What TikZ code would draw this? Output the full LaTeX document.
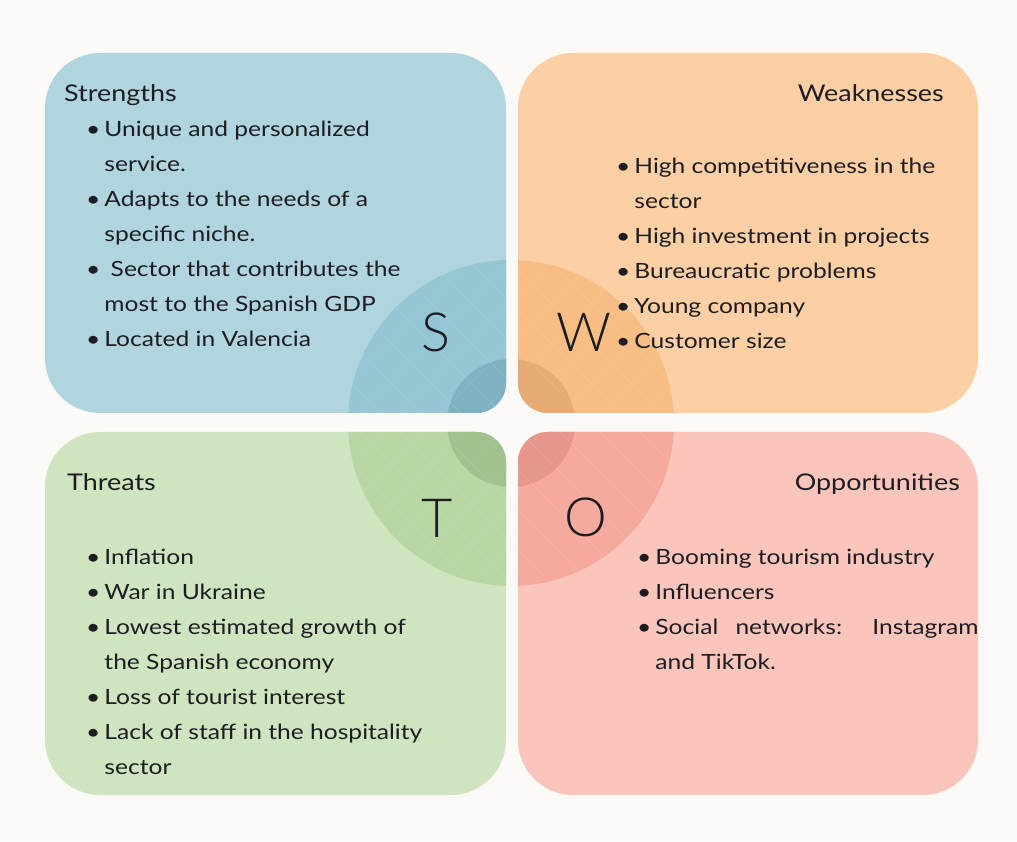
\documentclass[tikz,border=0pt]{standalone}
\usepackage{fontspec}
\setmainfont[FakeStretch=1.17]{Lato}
\newfontfamily\bigletter{Lato Light}

\definecolor{paper}{RGB}{251,250,246}
\definecolor{ink}{RGB}{28,28,34}
\definecolor{blueA}{RGB}{176,213,222}
\definecolor{blueB}{RGB}{150,197,211}
\definecolor{blueC}{RGB}{126,177,194}
\definecolor{orangeA}{RGB}{252,208,164}
\definecolor{orangeB}{RGB}{248,189,130}
\definecolor{orangeC}{RGB}{232,170,116}
\definecolor{greenA}{RGB}{206,229,191}
\definecolor{greenB}{RGB}{184,215,164}
\definecolor{greenC}{RGB}{160,194,143}
\definecolor{redA}{RGB}{250,198,187}
\definecolor{redB}{RGB}{246,170,158}
\definecolor{redC}{RGB}{230,150,140}

% box with its own radius on every corner: x1,y1,x2,y2, then TL,TR,BR,BL
\newcommand{\swotshape}[8]{(#1+#5,#4) -- (#3-#6,#4) arc[start angle=90,end angle=0,radius=#6]
  -- (#3,#2+#7) arc[start angle=0,end angle=-90,radius=#7]
  -- (#1+#8,#2) arc[start angle=270,end angle=180,radius=#8]
  -- (#1,#4-#5) arc[start angle=180,end angle=90,radius=#5] -- cycle}

\begin{document}
\begin{tikzpicture}[x=1pt,y=1pt,
    every node/.style={inner sep=0pt, text=ink},
    title/.style={font=\fontsize{23}{27}\selectfont},
    list/.style={font=\fontsize{21}{35}\selectfont},
    letter/.style={font=\bigletter\fontsize{54}{60}\selectfont, anchor=base},
    hatch/.style={white, opacity=0.08, line width=1pt}]

  \fill[paper] (0,0) rectangle (1017,841);
  \coordinate (ctr) at (511,418);

  % the four quadrants, each with the rings of the centre circle
  \foreach \xa/\ya/\xb/\yb/\rtl/\rtr/\rbr/\rbl/\col in
      {45/428/506/788/55/55/30/55/blue,
       518/428/978/788/55/55/55/30/orange,
       45/46/506/409/55/30/55/55/green,
       518/46/978/409/30/55/55/55/red} {
    \fill[\col A] \swotshape{\xa}{\ya}{\xb}{\yb}{\rtl}{\rtr}{\rbr}{\rbl};
    \begin{scope}
      \clip \swotshape{\xa}{\ya}{\xb}{\yb}{\rtl}{\rtr}{\rbr}{\rbl};
      \fill[\col B] (ctr) circle (163);
      \fill[\col C] (ctr) circle (64);
      \clip (ctr) circle (163);
      \foreach \k in {-9,...,9} {
        \draw[hatch] (511+\k*40-200,218) -- ++(400,400);
        \draw[hatch] (511+\k*40+200,218) -- ++(-400,400);
      }
    \end{scope}
  }

  % headings
  \node[title, anchor=base west] (strengths) at (64,739) {Strengths};
  \node[title, anchor=base east] (weaknesses) at (944,739) {Weaknesses};
  \node[title, anchor=base west] (threats) at (67,350) {Threats};
  \node[title, anchor=base east] (opportunities) at (960,350) {Opportunities};

  % big letters round the centre
  \node[letter] (S) at (436,489) {S};
  \node[letter] (W) at (584,489) {W};
  \node[letter] (T) at (437,303) {T};
  \node[letter] (O) at (586,304) {O};

  % bullet lists
  \node[list, anchor=base west] (slist) at (86,704) {%
    \begin{tabular}[t]{@{}l@{\hspace{4pt}}l@{}}
      \textbullet & Unique and personalized\\
                  & service.\\
      \textbullet & Adapts to the needs of a\\
                  & specific niche.\\
      \textbullet & \ Sector that contributes the\\
                  & most to the Spanish GDP\\
      \textbullet & Located in Valencia
    \end{tabular}};

  \node[list, anchor=base west] (wlist) at (616,667) {%
    \begin{tabular}[t]{@{}l@{\hspace{4pt}}l@{}}
      \textbullet & High competitiveness in the\\
                  & sector\\
      \textbullet & High investment in projects\\
      \textbullet & Bureaucratic problems\\
      \textbullet & Young company\\
      \textbullet & Customer size
    \end{tabular}};

  \node[list, anchor=base west] (tlist) at (86,276) {%
    \begin{tabular}[t]{@{}l@{\hspace{4pt}}l@{}}
      \textbullet & Inflation\\
      \textbullet & War in Ukraine\\
      \textbullet & Lowest estimated growth of\\
                  & the Spanish economy\\
      \textbullet & Loss of tourist interest\\
      \textbullet & Lack of staff in the hospitality\\
                  & sector
    \end{tabular}};

  \node[list, anchor=base west] (olist) at (637,276) {%
    \begin{tabular}[t]{@{}l@{\hspace{4pt}}l@{}}
      \textbullet & Booming tourism industry\\
      \textbullet & Influencers\\
      \textbullet & \makebox[323pt][s]{Social networks: Instagram}\\
                  & and TikTok.
    \end{tabular}};
\end{tikzpicture}
\end{document}
